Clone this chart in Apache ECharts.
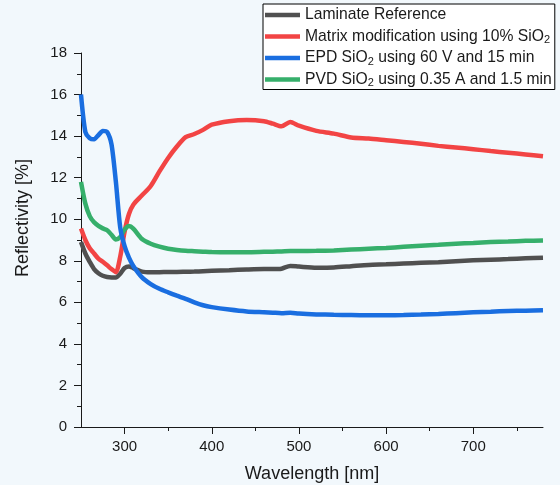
<!DOCTYPE html>
<html>
<head>
<meta charset="utf-8">
<script src="https://cdn.jsdelivr.net/npm/echarts@6/dist/echarts.min.js"></script>
<style>
html,body{margin:0;padding:0;background:#F2F8FC;}
#chart{width:560px;height:485px;}
</style>
</head>
<body>
<div id="chart"></div>
<script>
var wavelength = [250,255,260,265,270,275,280,285,290,295,300,305,310,320,330,340,350,360,370,380,390,400,420,440,460,470,480,490,500,520,540,560,580,600,620,640,660,680,700,720,740,760,780];
var laminate = [8.9,8.35,7.95,7.6,7.4,7.28,7.22,7.2,7.2,7.38,7.65,7.73,7.65,7.48,7.45,7.45,7.46,7.46,7.47,7.48,7.5,7.52,7.55,7.58,7.6,7.6,7.62,7.75,7.72,7.67,7.68,7.74,7.8,7.83,7.87,7.9,7.93,7.98,8.02,8.05,8.08,8.12,8.15];
var matrix = [9.55,9.0,8.6,8.35,8.1,7.95,7.78,7.6,7.45,8.2,9.4,10.25,10.7,11.15,11.6,12.3,12.95,13.5,13.95,14.1,14.3,14.55,14.72,14.78,14.72,14.6,14.47,14.68,14.5,14.25,14.12,13.93,13.88,13.8,13.72,13.63,13.53,13.45,13.37,13.28,13.2,13.12,13.03];
var epd = [16.0,14.2,13.9,13.85,14.05,14.25,14.2,13.6,11.8,9.6,8.7,8.15,7.75,7.2,6.88,6.65,6.48,6.32,6.17,6.0,5.86,5.77,5.65,5.56,5.52,5.5,5.48,5.5,5.46,5.42,5.4,5.39,5.38,5.38,5.39,5.41,5.44,5.48,5.52,5.55,5.58,5.6,5.62];
var pvd = [11.8,10.75,10.15,9.85,9.68,9.56,9.47,9.25,9.02,9.14,9.5,9.67,9.55,9.05,8.82,8.68,8.58,8.52,8.48,8.46,8.44,8.42,8.41,8.41,8.43,8.44,8.45,8.47,8.47,8.48,8.5,8.54,8.58,8.62,8.67,8.72,8.77,8.82,8.86,8.9,8.93,8.96,8.98];
var seriesNames = ['Laminate Reference','Matrix modification using 10% SiO2','EPD SiO2 using 60 V and 15 min','PVD SiO2 using 0.35 A and 1.5 min'];
var legendRich = ['{a|Laminate Reference}','{a|Matrix modification using 10% SiO}{s|2}','{a|EPD SiO}{s|2}{a| using 60 V and 15 min}','{a|PVD SiO}{s|2}{a| using 0.35 A and 1.5 min}'];
var xMajorTicks = [300,400,500,600,700];
var xMinorTicks = [350,450,550,650,750];
var colors = ['#505050','#F24444','#1A6EE0','#36AF6B'];
var font = 'Liberation Sans, Arial, sans-serif';

function pairs(vals){ return wavelength.map(function(w,i){ return [w, vals[i]]; }); }
var allVals = [laminate, matrix, epd, pvd];

var chart = echarts.init(document.getElementById('chart'), null, {renderer:'canvas'});
chart.setOption({
  backgroundColor:'#F2F8FC',
  animation:false,
  textStyle:{fontFamily:font},
  grid:{left:81, right:17, top:53, bottom:58, outerBoundsMode:'none', containLabel:false},
  legend:{
    show:true, orient:'vertical', left:263, top:4,
    padding:[2,3,1,2], itemGap:3.5, itemWidth:35, itemHeight:4.5, itemTextGap:5,
    icon:'rect',
    backgroundColor:'#ffffff', borderColor:'#000000', borderWidth:1,
    data: seriesNames,
    formatter:function(name){ return legendRich[seriesNames.indexOf(name)]; },
    textStyle:{
      fontFamily:font, color:'#1a1a1a', fontSize:15.7, lineHeight:18,
      rich:{
        a:{fontSize:15.7, lineHeight:18, fontFamily:font, color:'#1a1a1a'},
        s:{fontSize:11, lineHeight:18, verticalAlign:'bottom', fontFamily:font, color:'#1a1a1a'}
      }
    }
  },
  xAxis:[{
    type:'value', min:250, max:780, position:'bottom',
    name:'Wavelength [nm]', nameLocation:'middle', nameGap:38,
    nameTextStyle:{fontSize:18, color:'#1a1a1a', fontFamily:font},
    axisLine:{show:true, onZero:false, lineStyle:{color:'#1a1a1a', width:1}},
    axisTick:{show:true, customValues:xMajorTicks, length:7, lineStyle:{color:'#1a1a1a'}},
    axisLabel:{show:true, customValues:xMajorTicks, fontSize:15, color:'#1a1a1a', margin:12, fontFamily:font},
    splitLine:{show:false}
  },{
    type:'value', min:250, max:780, position:'bottom',
    axisLine:{show:false},
    axisTick:{show:true, customValues:xMinorTicks, length:4, lineStyle:{color:'#1a1a1a'}},
    axisLabel:{show:false},
    splitLine:{show:false}
  }],
  yAxis:{
    type:'value', min:0, max:18, interval:2,
    axisLine:{show:true, onZero:false, lineStyle:{color:'#1a1a1a', width:1}},
    axisTick:{show:true, length:7, lineStyle:{color:'#1a1a1a'}},
    minorTick:{show:true, splitNumber:2, length:4, lineStyle:{color:'#1a1a1a'}},
    axisLabel:{fontSize:15, color:'#1a1a1a', margin:14, fontFamily:font},
    splitLine:{show:false},
    minorSplitLine:{show:false}
  },
  graphic:[{
    type:'text', x:23, y:218, rotation:Math.PI/2,
    style:{text:'Reflectivity [%]', fontSize:18, fontFamily:font, fill:'#1a1a1a', align:'center', verticalAlign:'middle'}
  }],
  series: seriesNames.map(function(n,i){
    return {
      name:n, type:'line', xAxisIndex:0, data:pairs(allVals[i]),
      showSymbol:false, symbol:'none', smooth:0.25,
      lineStyle:{color:colors[i], width:4.5},
      itemStyle:{color:colors[i]},
      z: [2,3,4,3][i]
    };
  })
});
</script>
</body>
</html>
